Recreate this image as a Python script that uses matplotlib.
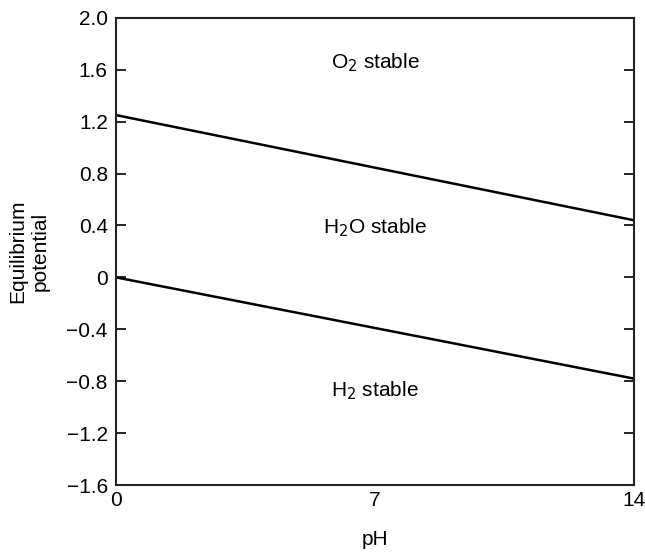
import numpy as np
import matplotlib
matplotlib.use('Agg')
import matplotlib.pyplot as plt

plt.rcParams['font.family'] = ['Liberation Sans', 'DejaVu Sans']
plt.rcParams['axes.unicode_minus'] = True

# pH range and boundary potentials
ph = [0, 14]
o2_line = [1.25, 0.44]
h2_line = [0.0, -0.78]

xticks = [0, 7, 14]
yticks = [-1.6, -1.2, -0.8, -0.4, 0, 0.4, 0.8, 1.2, 1.6, 2.0]
ytick_labels = ['\u22121.6', '\u22121.2', '\u22120.8', '\u22120.4', '0',
                '0.4', '0.8', '1.2', '1.6', '2.0']

regions = ['O$_2$ stable', 'H$_2$O stable', 'H$_2$ stable']
region_y = [1.65, 0.38, -0.87]

fs = 15

fig = plt.figure(figsize=(6.45, 5.55), dpi=100)
ax = fig.add_axes([0.180, 0.126, 0.803, 0.842])

ax.plot(ph, o2_line, color='black', lw=1.8)
ax.plot(ph, h2_line, color='black', lw=1.8)

for txt, yv in zip(regions, region_y):
    ax.text(7, yv, txt, ha='center', va='center', fontsize=fs)

ax.set_xlim(0, 14)
ax.set_ylim(-1.6, 2.0)
ax.set_xticks(xticks)
ax.set_xticklabels([str(t) for t in xticks])
ax.set_yticks(yticks)
ax.set_yticklabels(ytick_labels)

ax.tick_params(axis='x', length=0, pad=4, labelsize=fs)
ax.tick_params(axis='y', direction='in', length=7, width=1.2, labelsize=fs,
               right=True, pad=6)

for s in ax.spines.values():
    s.set_linewidth(1.5)
    s.set_color('#222222')

ax.set_xlabel('pH', fontsize=fs, labelpad=15)
ax.set_ylabel('Equilibrium\npotential', fontsize=fs, labelpad=12, linespacing=1.25)

fig.savefig('out.png', dpi=100)
